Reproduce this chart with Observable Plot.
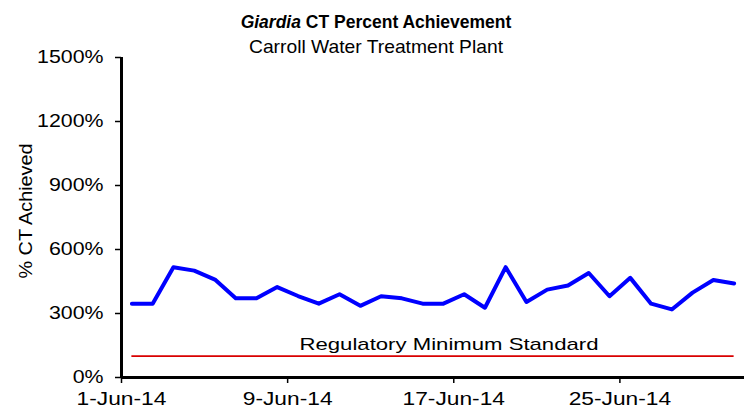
<!DOCTYPE html>
<html><head><meta charset="utf-8">
<script src="https://cdn.jsdelivr.net/npm/d3@7"></script>
<script src="https://cdn.jsdelivr.net/npm/@observablehq/plot@0.6"></script>
<style>
body{margin:0;background:#fff;}
#chart svg{font-family:"Liberation Sans",Arial,sans-serif;}
</style>
</head><body><div id="chart"></div>
<script>
const titleItalic = "Giardia";
const titleRest = " CT Percent Achievement";
const subtitle = "Carroll Water Treatment Plant";
const yLabel = "% CT Achieved";
const annotationLabel = "Regulatory Minimum Standard";
const dates = ["2014-06-01","2014-06-02","2014-06-03","2014-06-04","2014-06-05","2014-06-06","2014-06-07","2014-06-08","2014-06-09","2014-06-10",
  "2014-06-11","2014-06-12","2014-06-13","2014-06-14","2014-06-15","2014-06-16","2014-06-17","2014-06-18","2014-06-19","2014-06-20",
  "2014-06-21","2014-06-22","2014-06-23","2014-06-24","2014-06-25","2014-06-26","2014-06-27","2014-06-28","2014-06-29","2014-06-30"];
const ctPercent = [346,346,517,501,459,371,371,424,382,346,390,336,381,371,346,346,390,327,517,354,412,431,490,381,467,346,319,398,457,441];
const regulatoryMinimum = 100;
const xDomain = ["2014-06-01","2014-07-01"];
const xTicks = ["2014-06-01","2014-06-09","2014-06-17","2014-06-25"];
const yTicks = [0,300,600,900,1200,1500];

const noon = s => new Date(s + "T12:00:00Z");
const midnight = s => new Date(s + "T00:00:00Z");
const data = dates.map((d, i) => ({date: noon(d), value: ctPercent[i]}));
const first = data[0].date, last = data[data.length - 1].date;
const mid = new Date((+first + +last) / 2);

const plot = Plot.plot({
  width: 747, height: 412,
  marginTop: 57, marginBottom: 35, marginLeft: 121, marginRight: 3,
  style: {fontFamily: "'Liberation Sans', Arial, sans-serif", fontSize: "17px", background: "#fff", color: "#000", overflow: "visible"},
  x: {type: "utc", domain: xDomain.map(midnight), axis: null},
  y: {domain: [0, 1500], axis: null},
  marks: [
    Plot.axisY({ticks: yTicks, tickFormat: d => d + "%", tickSize: 6, tickPadding: 12, label: null, fontSize: 17.5, strokeWidth: 1.5, className: "yax"}),
    Plot.axisX({ticks: xTicks.map(midnight), tickFormat: d3.utcFormat("%-d-%b-%y"), tickSize: 6, tickPadding: 9, label: null, fontSize: 17.5, strokeWidth: 1.5, className: "xax"}),
    Plot.ruleY([regulatoryMinimum], {x1: first, x2: last, stroke: "#d90000", strokeWidth: 1.6}),
    Plot.text([annotationLabel], {x: mid, y: regulatoryMinimum, text: d => d, dx: 16, dy: -12, fontSize: 17, fill: "#000", className: "annot"}),
    Plot.line(data, {x: "date", y: "value", stroke: "#0000ff", strokeWidth: 4, strokeLinejoin: "round"}),
    Plot.ruleX([midnight(xDomain[0])], {stroke: "#000", strokeWidth: 3}),
    Plot.ruleY([0], {stroke: "#000", strokeWidth: 3})
  ]
});
document.getElementById("chart").appendChild(plot);

const svg = d3.select(plot);
const t = svg.append("text").attr("x", 376).attr("y", 28).attr("text-anchor", "middle")
  .attr("font-size", 17.5).attr("font-weight", "bold").attr("fill", "#000");
t.append("tspan").attr("font-style", "italic").text(titleItalic);
t.append("tspan").text(titleRest);
const st = svg.append("text").attr("x", 376).attr("y", 53).attr("text-anchor", "middle")
  .attr("font-size", 18.5).attr("fill", "#000").text(subtitle);
const yl = svg.append("text").attr("transform", "translate(32,211) rotate(-90)").attr("text-anchor", "middle")
  .attr("font-size", 18.5).attr("fill", "#000").text(yLabel);

function fit(sel, target) {
  sel.each(function() {
    this.setAttribute("textLength", target);
    this.setAttribute("lengthAdjust", "spacingAndGlyphs");
  });
}
function stretch(sel, k) {
  sel.each(function() {
    const L = this.getComputedTextLength();
    if (L > 0) { this.setAttribute("textLength", L * k); this.setAttribute("lengthAdjust", "spacingAndGlyphs"); }
  });
}
stretch(svg.selectAll(".yax text"), 1.22);
stretch(svg.selectAll(".xax text"), 1.3);
fit(svg.selectAll(".annot text"), 299);
fit(st, 254);
fit(yl, 135);
</script></body></html>
